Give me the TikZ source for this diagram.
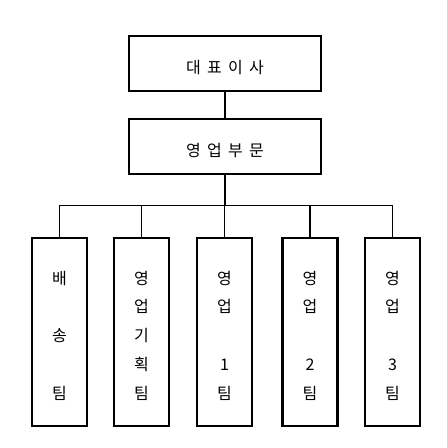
\documentclass[tikz,border=0pt]{standalone}
\usepackage{fontspec}
\newfontfamily\kr[WordSpace=1.75]{Noto Sans CJK KR}
\begin{document}
\begin{tikzpicture}[x=1pt,y=-1pt,
  topbox/.style={draw=black,line width=2.5pt,inner sep=0pt,minimum width=192pt,minimum height=55pt},
  team/.style={draw=black,line width=2.5pt,inner sep=0pt,minimum width=55pt,minimum height=188pt},
  txt/.style={font=\kr\fontsize{16pt}{16pt}\selectfont,inner sep=0pt,text=black},
  vtxt/.style={font=\kr\fontsize{16pt}{28.75pt}\selectfont,inner sep=0pt,align=center,text=black},
  conn/.style={line width=1.5pt,draw=black}]
\useasboundingbox (0,0) rectangle (447,448);
\fill[white] (0,0) rectangle (447,448);
% top boxes
\node[topbox] (ceo) at (225,63.5) {};
\node[topbox] (sales) at (225,146.5) {};
\node[txt] (tceo) at ([yshift=-4pt]ceo.center) {대 표 이 사};
\node[txt] (tsales) at ([yshift=-4pt]sales.center) {영 업 부 문};
% team boxes
\node[team] (b1) at (59.5,332) {};
\node[team] (b2) at (141.5,332) {};
\node[team] (b3) at (224.5,332) {};
\node[team] (b4) at (310,332) {};
\node[team] (b5) at (392.5,332) {};
\node[vtxt] (t1) at ([yshift=-3.5pt]b1.center) {배\\ \\송\\ \\팀};
\node[vtxt] (t2) at ([yshift=-3.5pt]b2.center) {영\\업\\기\\획\\팀};
\node[vtxt] (t3) at ([yshift=-3.5pt]b3.center) {영\\업\\ \\1\\팀};
\node[vtxt] (t4) at ([yshift=-3.5pt]b4.center) {영\\업\\ \\2\\팀};
\node[vtxt] (t5) at ([yshift=-3.5pt]b5.center) {영\\업\\ \\3\\팀};
% connectors
\coordinate (bus) at (225,205.5);
\draw[line width=2pt] (ceo.south) -- (sales.north);
\draw[conn] (b1.north) |- (b5.north |- bus) -- (b5.north);
\draw[conn] (b2.north) -- (b2.north |- bus);
\draw[conn] (b3.north) -- (b3.north |- bus);
\draw[conn] (b4.north) -- (b4.north |- bus);
\draw[line width=2.5pt] (sales.south) -- (sales.south |- bus);
\end{tikzpicture}
\end{document}
